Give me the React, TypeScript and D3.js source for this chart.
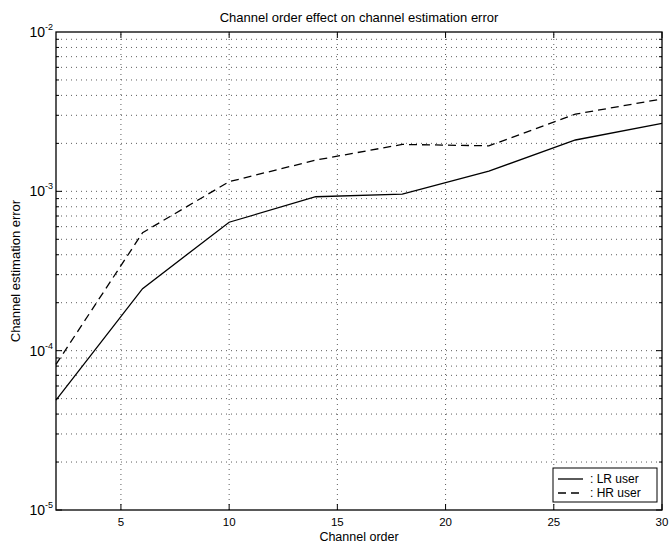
import React from 'react';
import * as d3 from 'd3';

// channel orders sampled in the simulation
const channelOrders = [2, 6, 10, 14, 18, 22, 26, 30];
// estimation error, low-rate user (solid)
const lrUser = [4.9e-5, 2.45e-4, 6.4e-4, 9.25e-4, 9.6e-4, 1.34e-3, 2.1e-3, 2.67e-3];
// estimation error, high-rate user (dashed)
const hrUser = [8.2e-5, 5.5e-4, 1.15e-3, 1.57e-3, 1.97e-3, 1.93e-3, 3.05e-3, 3.8e-3];

const xTicks = [5, 10, 15, 20, 25, 30];
const yDecades = [-5, -4, -3, -2];
const seriesNames = ['LR user', 'HR user'];

const width = 672;
const height = 542;
const margin = {top: 32, right: 10, bottom: 32, left: 56};

export default function App() {
    const x = d3.scaleLinear().domain([2, 30]).range([margin.left, width - margin.right]);
    const y = d3.scaleLog().domain([1e-5, 1e-2]).range([height - margin.bottom, margin.top]);

    const line = d3.line<number>()
        .x((d, i) => x(channelOrders[i]))
        .y(d => y(d));

    // minor grid values: 1..9 x each decade
    const yGrid: number[] = [];
    yDecades.slice(0, 3).forEach(e => {
        for (let m = 1; m <= 9; m++) yGrid.push(m * Math.pow(10, e));
    });

    const x0 = x.range()[0], x1 = x.range()[1];
    const y0 = y.range()[0], y1 = y.range()[1];
    const font = 'Liberation Sans, Arial, Helvetica, sans-serif';

    const legX = 553, legY = 468;

    return (
        <svg width={width} height={height} style={{position: 'absolute', left: 0, top: 0, background: '#fff'}}
             fontFamily={font}>
            {/* horizontal dotted grid */}
            {yGrid.filter(v => v > 1e-5).map((v, i) => (
                <line key={'gy' + i} x1={x0} x2={x1} y1={y(v)} y2={y(v)}
                      stroke="#333" strokeWidth={0.8} strokeDasharray="1,4"/>
            ))}
            {/* vertical dotted grid */}
            {xTicks.filter(t => t < 30).map(t => (
                <line key={'gx' + t} x1={x(t)} x2={x(t)} y1={y0} y2={y1}
                      stroke="#333" strokeWidth={0.8} strokeDasharray="1,4"/>
            ))}
            {/* y ticks: major and minor, both sides */}
            {yGrid.map((v, i) => {
                const major = Math.abs(Math.log10(v) - Math.round(Math.log10(v))) < 1e-9;
                const len = major ? 6 : 3;
                return (
                    <g key={'yt' + i}>
                        <line x1={x0} x2={x0 + len} y1={y(v)} y2={y(v)} stroke="#000"/>
                        <line x1={x1} x2={x1 - len} y1={y(v)} y2={y(v)} stroke="#000"/>
                    </g>
                );
            })}
            {/* x ticks, both sides */}
            {xTicks.map(t => (
                <g key={'xt' + t}>
                    <line x1={x(t)} x2={x(t)} y1={y0} y2={y0 - 6} stroke="#000"/>
                    <line x1={x(t)} x2={x(t)} y1={y1} y2={y1 + 6} stroke="#000"/>
                    <text x={x(t)} y={y0 + 16} textAnchor="middle" fontSize={11.5}>{t}</text>
                </g>
            ))}
            {/* y tick labels */}
            {yDecades.map(e => (
                <text key={'yl' + e} x={x0 - 3} y={y(Math.pow(10, e)) + 5} textAnchor="end" fontSize={14}>
                    10<tspan fontSize={9} dy={-7}>{e}</tspan>
                </text>
            ))}
            {/* plot box */}
            <rect x={x0} y={y1} width={x1 - x0} height={y0 - y1} fill="none" stroke="#000" strokeWidth={1.3}/>

            {/* series */}
            <path d={line(lrUser) || ''} fill="none" stroke="#000" strokeWidth={1.3}/>
            <path d={line(hrUser) || ''} fill="none" stroke="#000" strokeWidth={1.3} strokeDasharray="8,5"/>

            {/* legend */}
            <rect x={legX} y={legY} width={104} height={34} fill="#fff" stroke="#000" strokeWidth={1}/>
            {seriesNames.map((s, i) => (
                <g key={s}>
                    <line x1={legX + 5} x2={legX + 30} y1={legY + 11 + i * 14} y2={legY + 11 + i * 14}
                          stroke="#000" strokeWidth={1.3} strokeDasharray={i === 1 ? '8,5' : undefined}/>
                    <text x={legX + 37} y={legY + 15 + i * 14} fontSize={12}>: {s}</text>
                </g>
            ))}

            {/* titles */}
            <text x={(x0 + x1) / 2} y={22} textAnchor="middle" fontSize={13}>
                Channel order effect on channel estimation error
            </text>
            <text x={(x0 + x1) / 2} y={540.5} textAnchor="middle" fontSize={12.5}>Channel order</text>
            <text transform={`translate(20,${(y0 + y1) / 2}) rotate(-90)`} textAnchor="middle" fontSize={13}>
                Channel estimation error
            </text>
        </svg>
    );
}
